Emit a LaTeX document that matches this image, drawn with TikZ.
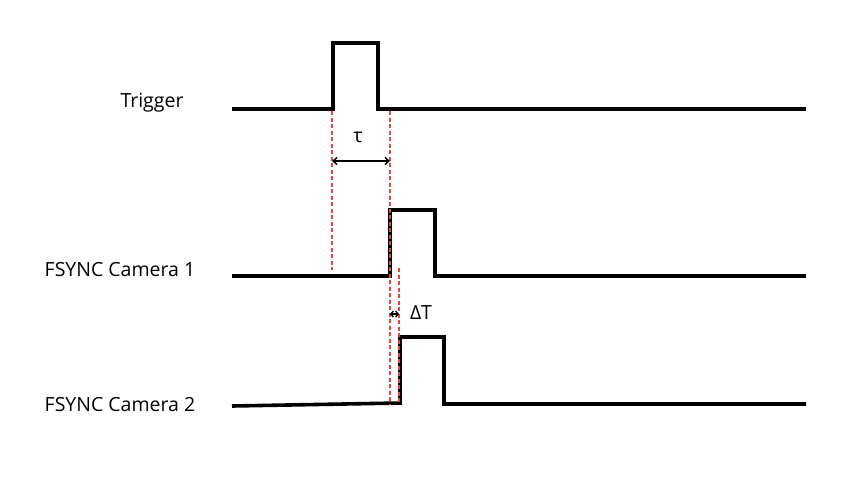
\documentclass[tikz,border=0pt]{standalone}
\usepackage{fontspec}
\setmainfont{Open Sans}
\usetikzlibrary{arrows.meta}
\begin{document}
\begin{tikzpicture}[x=1pt,y=-1pt,
  sig/.style={line width=3.6pt,line join=miter,line cap=butt},
  guide/.style={draw={rgb,255:red,225;green,70;blue,70},line width=1.3pt,dash pattern=on 4pt off 2.5pt},
  dim/.style={line width=1.4pt,{Straight Barb[length=4pt,width=7pt]}-{Straight Barb[length=4pt,width=7pt]}},
  lbl/.style={font=\fontsize{19.5}{22}\selectfont,inner sep=0pt}]
\useasboundingbox (0,0) rectangle (849,477);
% signals
\draw[sig] (232,109) -- (333,109) -- (333,43) -- (378,43) -- (378,109) -- (806,109);
\draw[sig] (232,276) -- (390,276) -- (390,210) -- (435,210) -- (435,276) -- (806,276);
\draw[sig] (232,406) -- (400,403) -- (400,337) -- (444,337) -- (444,404) -- (806,404);
% labels
\node[lbl] (trig) at (152,103) {Trigger};
\node[lbl] (cam1) at (120,270) {FSYNC Camera 1};
\node[lbl] (cam2) at (120,405) {FSYNC Camera 2};
% guides
\coordinate (g1t) at (332,111);
\coordinate (g1b) at (332,270);
\coordinate (g2t) at (390,111);
\coordinate (g2b) at (390,404);
\coordinate (g3t) at (399,268);
\coordinate (g3b) at (399,404);
\draw[guide] (g1t) -- (g1b);
\draw[guide] (g2t) -- (g2b);
\draw[guide] (g3t) -- (g3b);
% dimensions
\draw[dim] (332,161) -- (390,161);
\node[lbl] (tau) at (358,137) {τ};
\draw[dim,{Straight Barb[length=2.5pt,width=6pt]}-{Straight Barb[length=2.5pt,width=6pt]}] (390,314) -- (399,314);
\node[lbl] (dT) at (421,313) {ΔT};
\end{tikzpicture}
\end{document}
